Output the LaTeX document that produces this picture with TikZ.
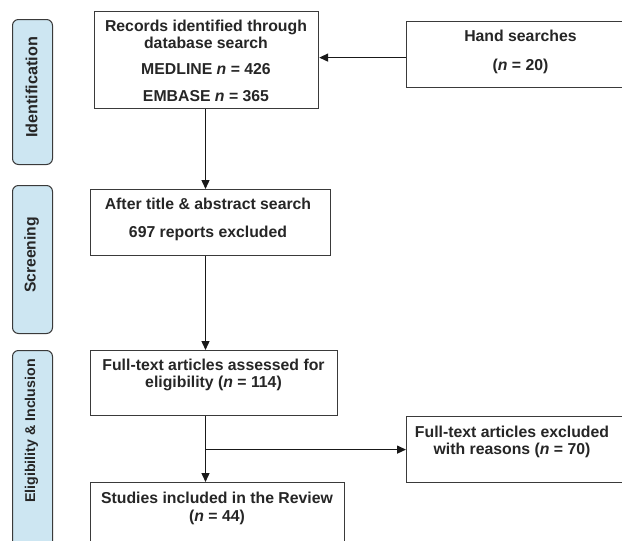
\documentclass[tikz,border=0pt]{standalone}
\usepackage{fontspec}
\setmainfont{Liberation Sans}
\usetikzlibrary{arrows.meta}
\definecolor{sidefill}{HTML}{CDE6F2}
\definecolor{lineclr}{HTML}{3A3A3A}
\definecolor{txtclr}{HTML}{262626}
\begin{document}
\begin{tikzpicture}[x=1pt,y=-1pt,
  box/.style={draw=lineclr, line width=1.2pt, fill=white, inner sep=0pt, anchor=north west},
  side/.style={draw=lineclr, line width=1pt, fill=sidefill, rounded corners=6pt, inner sep=0pt, anchor=north west, minimum width=40pt},
  sidetxt/.style={rotate=90, font=\fontsize{#1}{17}\selectfont\bfseries, text=txtclr, inner sep=0pt},
  txt/.style={align=center, font=\fontsize{15.8}{17.5}\selectfont\bfseries, text=txtclr, inner sep=0pt},
  arr/.style={draw=black!90, line width=1.4pt, -{Triangle[length=9pt,width=8pt]}},
]
\useasboundingbox (0,0) rectangle (622,541);
% sidebars
\node[side, minimum height=145pt] (sid1) at (12,19) {};
\node[side, minimum height=148pt] (sid2) at (12,185) {};
\node[side, minimum height=230pt] (sid3) at (12,350) {};
\node[sidetxt=16.2] (sid1t) at (31.5,87.5) {Identification};
\node[sidetxt=15.7] (sid2t) at (31.5,255) {Screening};
\node[sidetxt=14.2] (sid3t) at (31.5,431) {Eligibility \& Inclusion};
% boxes
\node[box, minimum width=224pt, minimum height=97pt] (rec) at (94,11) {};
\node[box, minimum width=240pt, minimum height=66pt] (hand) at (406,21) {};
\node[box, minimum width=240pt, minimum height=66pt] (at) at (90,189) {};
\node[box, minimum width=247pt, minimum height=65pt] (ft) at (90,350) {};
\node[box, minimum width=240pt, minimum height=66pt] (ex) at (406,416) {};
\node[box, minimum width=254pt, minimum height=80pt] (st) at (90,482) {};
% texts
\node[txt] (rect) at (206,61) {Records identified through\\database search\\[8.5pt]MEDLINE \textit{n} = 426\\[9.5pt]EMBASE \textit{n} = 365};
\node[txt] (handt) at (520.5,51.5) {Hand searches\\[11.5pt](\textit{n} = 20)};
\node[txt] (att) at (208,219) {After title \& abstract search\\[10.5pt]697 reports excluded};
\node[txt] (ftt) at (213.5,375) {Full-text articles assessed for\\eligibility (\textit{n} = 114)};
\node[txt] (ext) at (512,442) {Full-text articles excluded\\with reasons (\textit{n} = 70)};
\node[txt] (stt) at (217,508.5) {Studies included in the Review\\(\textit{n} = 44)};
% connectors
\coordinate (spine) at (205.5,0);
\draw[arr] ([yshift=-3pt]hand.west) -- ([yshift=-3pt]hand.west -| rec.east);
\draw[arr] (spine |- rec.south) -- (spine |- at.north);
\draw[arr] (spine |- at.south) -- (spine |- ft.north);
\draw[arr] (spine |- ft.south) -- (spine |- st.north);
\draw[arr] (spine |- ex.west) -- (ex.west);
\end{tikzpicture}
\end{document}
